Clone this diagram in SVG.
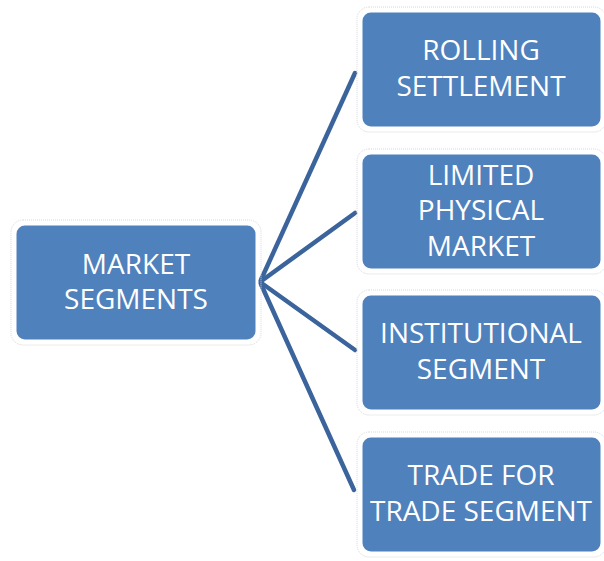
<svg xmlns="http://www.w3.org/2000/svg" width="604" height="561" viewBox="0 0 604 561">
  <style>
    .halo { fill: none; stroke: #d8d8d8; stroke-width: 1; stroke-dasharray: 1 1; }
    .box { fill: #4F81BD; stroke: #ffffff; stroke-width: 3; }
    .label { fill: #ffffff; font-family: "Open Sans", "Liberation Sans", sans-serif; font-size: 28px; text-anchor: middle; }
    .link { stroke: #3A649B; stroke-width: 4.5; fill: none; stroke-linecap: round; }
  </style>
  <rect width="604" height="561" fill="#ffffff"/>

  <g id="connectors">
    <line class="link" x1="260" y1="282" x2="355" y2="73"/>
    <line class="link" x1="260" y1="282" x2="355" y2="213"/>
    <line class="link" x1="260" y1="282" x2="355" y2="350"/>
    <line class="link" x1="260" y1="282" x2="354" y2="490"/>
  </g>

  <g id="market-segments">
    <rect class="halo" x="11" y="220" width="250" height="125" rx="12"/>
    <rect class="box" x="15" y="224" width="242" height="117" rx="10"/>
    <text class="label" x="136" y="274">MARKET</text>
    <text class="label" x="136" y="309">SEGMENTS</text>
  </g>

  <g id="rolling-settlement">
    <rect class="halo" x="357" y="7" width="249" height="125" rx="12"/>
    <rect class="box" x="361" y="11" width="241" height="117" rx="10"/>
    <text class="label" x="481" y="60">ROLLING</text>
    <text class="label" x="481" y="96">SETTLEMENT</text>
  </g>

  <g id="limited-physical-market">
    <rect class="halo" x="357" y="149" width="249" height="125" rx="12"/>
    <rect class="box" x="361" y="153" width="241" height="117" rx="10"/>
    <text class="label" x="481" y="185">LIMITED</text>
    <text class="label" x="481" y="220">PHYSICAL</text>
    <text class="label" x="481" y="256">MARKET</text>
  </g>

  <g id="institutional-segment">
    <rect class="halo" x="357" y="290" width="249" height="125" rx="12"/>
    <rect class="box" x="361" y="294" width="241" height="117" rx="10"/>
    <text class="label" x="481" y="343">INSTITUTIONAL</text>
    <text class="label" x="481" y="379">SEGMENT</text>
  </g>

  <g id="trade-for-trade-segment">
    <rect class="halo" x="357" y="432" width="249" height="125" rx="12"/>
    <rect class="box" x="361" y="436" width="241" height="117" rx="10"/>
    <text class="label" x="481" y="485">TRADE FOR</text>
    <text class="label" x="481" y="521">TRADE SEGMENT</text>
  </g>
</svg>
